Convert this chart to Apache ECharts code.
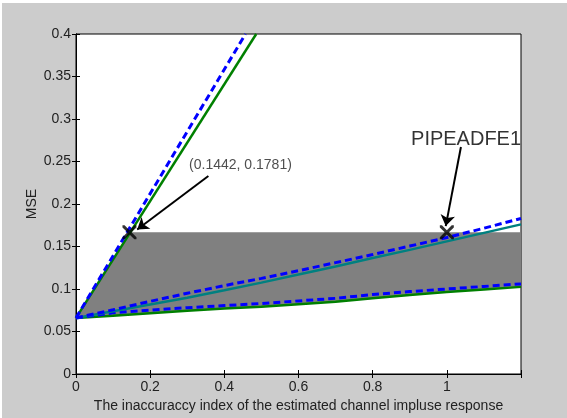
<!DOCTYPE html>
<html>
<head>
<meta charset="utf-8">
<script src="https://cdn.jsdelivr.net/npm/echarts@6/dist/echarts.min.js"></script>
<style>
  html, body { margin: 0; padding: 0; background: #fff; }
  #chart { position: absolute; left: 2px; top: 3px; width: 565px; height: 415px; }
</style>
</head>
<body>
<div id="chart"></div>
<script>
// x positions for the slow curves
var xs = [0, 0.1, 0.2, 0.3, 0.4, 0.5, 0.6, 0.7, 0.8, 0.9, 1.0, 1.1, 1.2];
var tealMid   = [0.066, 0.0738, 0.0818, 0.0898, 0.0985, 0.1075, 0.117, 0.1265, 0.1365, 0.146, 0.156, 0.166, 0.176];
var blueMid   = [0.066, 0.0755, 0.0855, 0.095, 0.104, 0.1125, 0.1215, 0.131, 0.1405, 0.1505, 0.1605, 0.1715, 0.183];
var blueLow   = [0.066, 0.072, 0.075, 0.078, 0.0805, 0.083, 0.086, 0.089, 0.0935, 0.097, 0.100, 0.103, 0.106];
var greenLow  = [0.066, 0.0685, 0.0715, 0.0745, 0.077, 0.079, 0.082, 0.085, 0.089, 0.093, 0.0965, 0.0995, 0.1025];
// steep lines
var greenSteep = [[0, 0.066], [0.486, 0.4]];
var blueSteep  = [[0, 0.066], [0.457, 0.4]];
// marked points and the level of the shaded region
var marks = [[0.1442, 0.1667], [1.0, 0.1667]];
var shadeTop = 0.1667;
// annotations
var noteA = { text: '(0.1442, 0.1781)', at: [0.305, 0.246], from: [0.357, 0.233], to: [0.165, 0.170] };
var noteB = { text: 'PIPEADFE1', at: [0.9035, 0.2758], from: [1.038, 0.267], to: [0.997, 0.174] };

function pairs(x, y) { return x.map(function (v, i) { return [v, y[i]]; }); }

// shaded polygon: up the steep line, across, down and back along the lower green curve
var shade = [[0, greenLow[0]], [marks[0][0], shadeTop], [xs[xs.length - 1], shadeTop]];
for (var i = xs.length - 1; i >= 0; i--) shade.push([xs[i], greenLow[i]]);

var fontFam = 'Liberation Sans, Arial, sans-serif';
var myChart = echarts.init(document.getElementById('chart'));

var axisCommon = {
    type: 'value',
    axisLine: { show: true, lineStyle: { color: '#000', width: 1 } },
    axisTick: { show: true, inside: true, length: 4, lineStyle: { color: '#000' } },
    splitLine: { show: false }
};
var dashed = { color: '#0000ff', width: 3, type: [7, 4] };

var option = {
    backgroundColor: '#cccccc',
    animation: false,
    grid: { left: 74, top: 31, right: 46, bottom: 41, show: true, backgroundColor: '#fff', borderColor: '#000', borderWidth: 1 },
    xAxis: [
        Object.assign({}, axisCommon, {
            min: 0, max: 1.2, interval: 0.2,
            name: 'The inaccuraccy index of the estimated channel impluse response',
            nameLocation: 'middle', nameGap: 25,
            nameTextStyle: { color: '#222', fontSize: 14, fontFamily: fontFam },
            axisLabel: { color: '#222', fontSize: 14, fontFamily: fontFam, margin: 6,
                formatter: function (v) { return v > 1.1 ? '' : String(+v.toFixed(2)); } }
        }),
        Object.assign({}, axisCommon, {
            position: 'top', min: 0, max: 1.2, interval: 0.2, axisLabel: { show: false }
        })
    ],
    yAxis: [
        Object.assign({}, axisCommon, {
            min: 0, max: 0.4, interval: 0.05,
            name: 'MSE', nameLocation: 'middle', nameGap: 37, nameMoveOverlap: false,
            nameTextStyle: { color: '#222', fontSize: 14, fontFamily: fontFam },
            axisLabel: { color: '#222', fontSize: 14, fontFamily: fontFam, margin: 5,
                formatter: function (v) { return String(+v.toFixed(2)); } }
        }),
        Object.assign({}, axisCommon, {
            position: 'right', min: 0, max: 0.4, interval: 0.05, axisLabel: { show: false }
        })
    ],
    series: [
        {
            type: 'custom', name: 'region', z: 1,
            data: shade,
            renderItem: function (params, api) {
                if (params.dataIndex !== 0) return;
                var pts = shade.map(function (p) { return api.coord(p); });
                return { type: 'polygon', shape: { points: pts }, style: { fill: '#808080' } };
            }
        },
        { type: 'line', name: 'greenSteep', data: greenSteep, showSymbol: false, z: 3,
          lineStyle: { color: '#008000', width: 2.5 } },
        { type: 'line', name: 'blueSteep', data: blueSteep, showSymbol: false, z: 3, lineStyle: dashed },
        { type: 'line', name: 'greenLow', data: pairs(xs, greenLow), showSymbol: false, z: 3,
          lineStyle: { color: '#008000', width: 2.5 } },
        { type: 'line', name: 'blueLow', data: pairs(xs, blueLow), showSymbol: false, z: 3, lineStyle: dashed },
        { type: 'line', name: 'tealMid', data: pairs(xs, tealMid), showSymbol: false, z: 3,
          lineStyle: { color: '#008080', width: 2.5 } },
        { type: 'line', name: 'blueMid', data: pairs(xs, blueMid), showSymbol: false, z: 3, lineStyle: dashed },
        {
            type: 'scatter', name: 'marks', data: marks, z: 5,
            symbol: 'path://M0,0 L3,0 L10,7 L17,0 L20,0 L20,3 L13,10 L20,17 L20,20 L17,20 L10,13 L3,20 L0,20 L0,17 L7,10 L0,3 Z',
            symbolSize: 14, itemStyle: { color: '#000' }
        },
        {
            type: 'lines', coordinateSystem: 'cartesian2d', z: 6,
            symbol: ['none', 'arrow'], symbolSize: 11,
            lineStyle: { color: '#000', width: 2, opacity: 1 },
            data: [{ coords: [noteA.from, noteA.to] }, { coords: [noteB.from, noteB.to] }]
        },
        {
            type: 'scatter', name: 'notes', symbolSize: 0, z: 7,
            data: [
                { value: noteA.at, label: { formatter: noteA.text, fontSize: 14, color: '#222' } },
                { value: noteB.at, label: { formatter: noteB.text, fontSize: 20, color: '#000' } }
            ],
            label: { show: true, position: 'right', distance: 0, fontFamily: fontFam }
        }
    ]
};

myChart.setOption(option);
</script>
</body>
</html>
